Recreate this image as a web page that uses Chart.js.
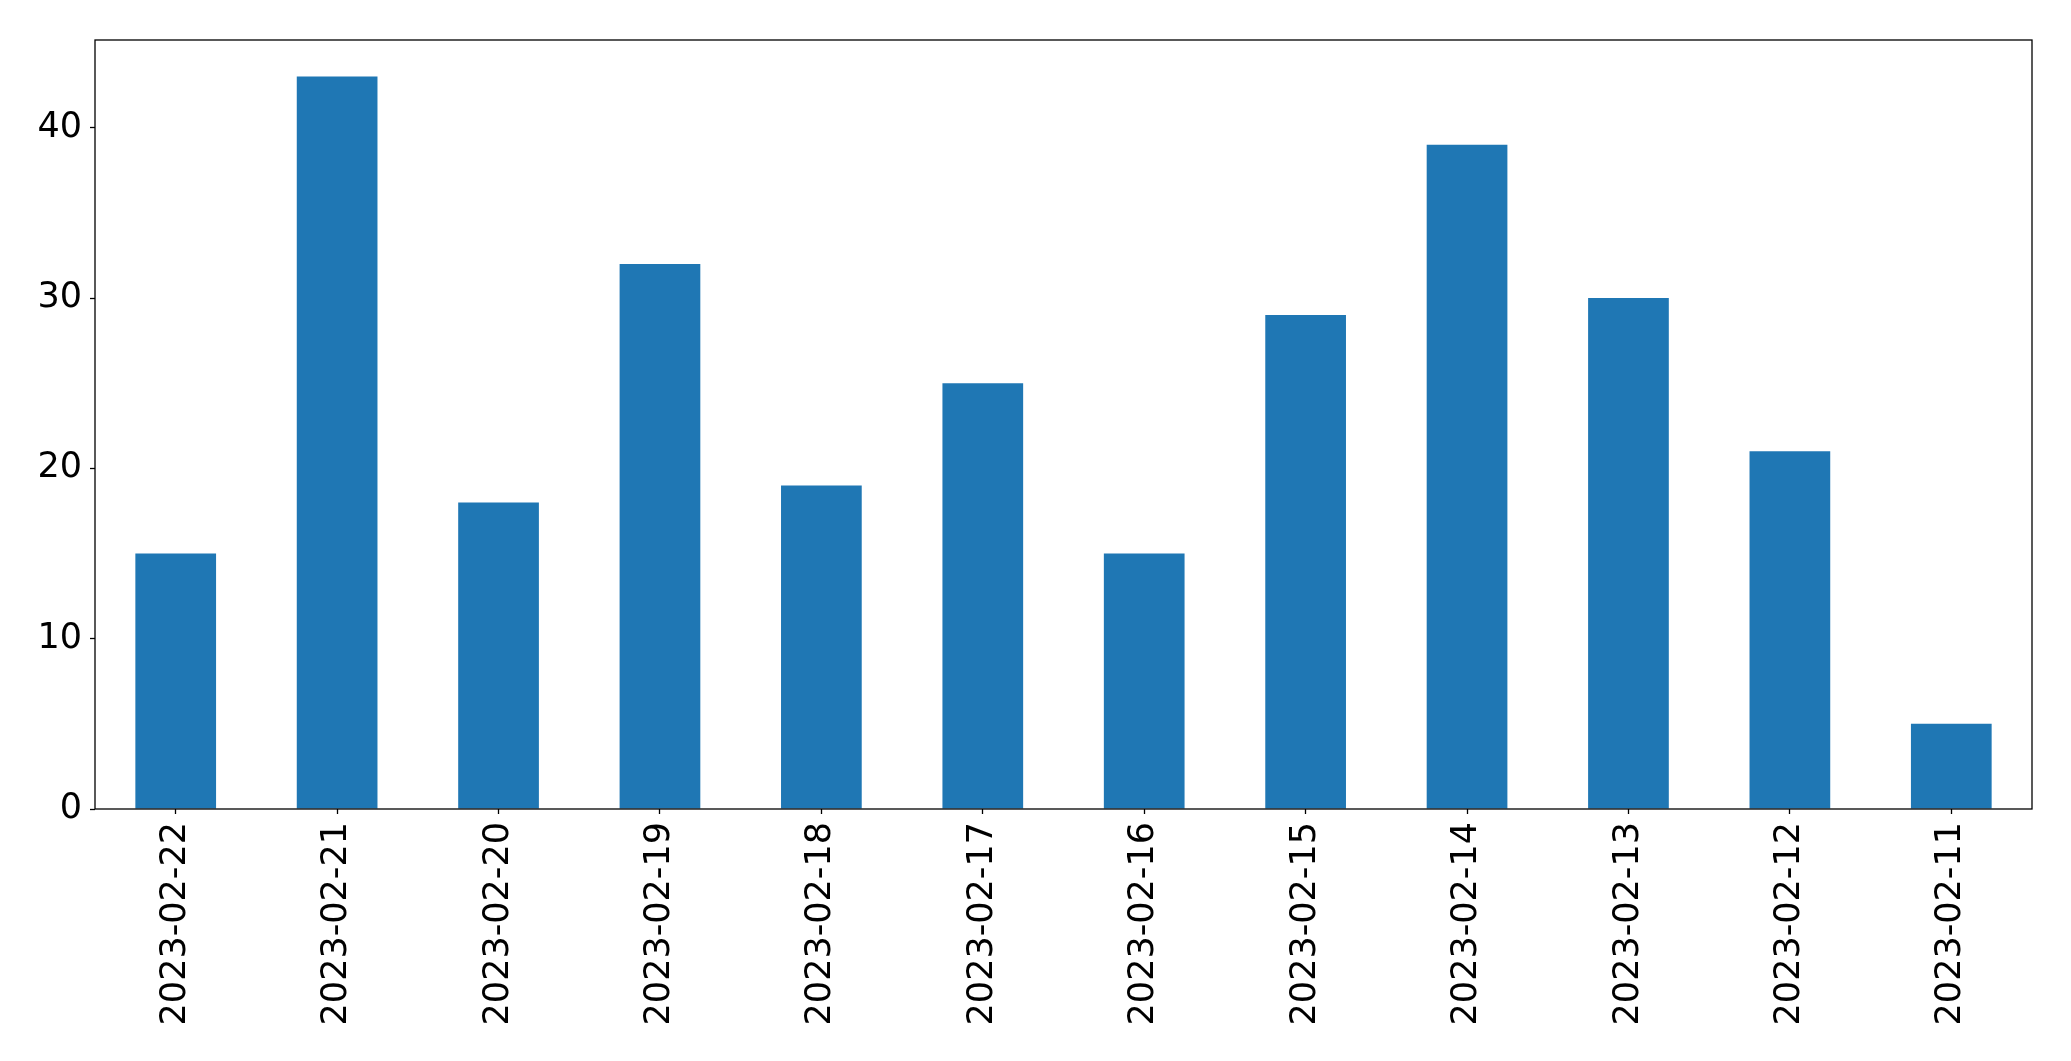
<!DOCTYPE html>
<html>
<head>
<meta charset="utf-8">
<script src="https://cdn.jsdelivr.net/npm/chart.js@4.4.0/dist/chart.umd.min.js"></script>
<style>
  body { margin: 0; background: #fff; }
  canvas { display: block; }
</style>
</head>
<body>
<canvas id="barChart" width="2071" height="1061"></canvas>
<script>
// dates as they appear on the x axis (newest first)
const dates = ['2023-02-22', '2023-02-21', '2023-02-20', '2023-02-19', '2023-02-18', '2023-02-17',
               '2023-02-16', '2023-02-15', '2023-02-14', '2023-02-13', '2023-02-12', '2023-02-11'];
const counts = [15, 43, 18, 32, 19, 25, 15, 29, 39, 30, 21, 5];
const yTicks = [0, 10, 20, 30, 40];

// box around the plot, like matplotlib spines
const frame = {
    id: 'frame',
    afterDraw(chart) {
        const a = chart.chartArea;
        const ctx = chart.ctx;
        ctx.save();
        ctx.strokeStyle = '#000';
        ctx.lineWidth = 1.3;
        ctx.strokeRect(a.left, a.top, a.right - a.left, a.bottom - a.top);
        ctx.restore();
    }
};

const font = { family: '"DejaVu Sans", sans-serif', size: 35 };

new Chart(document.getElementById('barChart'), {
    type: 'bar',
    data: {
        labels: dates,
        datasets: [{
            data: counts,
            backgroundColor: '#1f77b4',
            barPercentage: 0.5,
            categoryPercentage: 1.0
        }]
    },
    options: {
        responsive: false,
        animation: false,
        layout: { padding: { top: 40, right: 39, left: 0, bottom: 0 } },
        plugins: { legend: { display: false }, tooltip: { enabled: false } },
        scales: {
            x: {
                grid: { display: true, drawOnChartArea: false, offset: false, tickLength: 5, tickColor: '#000', tickWidth: 1.3 },
                border: { display: false },
                ticks: { color: '#000', font: font, minRotation: 90, maxRotation: 90, padding: 8, autoSkip: false },
                afterFit(scale) { scale.height = 252; }
            },
            y: {
                min: 0,
                max: Math.max(...counts) * 1.05,
                grid: { display: true, drawOnChartArea: false, tickLength: 5, tickColor: '#000', tickWidth: 1.3 },
                border: { display: false },
                afterBuildTicks(scale) { scale.ticks = yTicks.map(v => ({ value: v })); },
                ticks: { color: '#000', font: font, padding: 8 },
                afterFit(scale) { scale.width = 95; }
            }
        }
    },
    plugins: [frame]
});
</script>
</body>
</html>
